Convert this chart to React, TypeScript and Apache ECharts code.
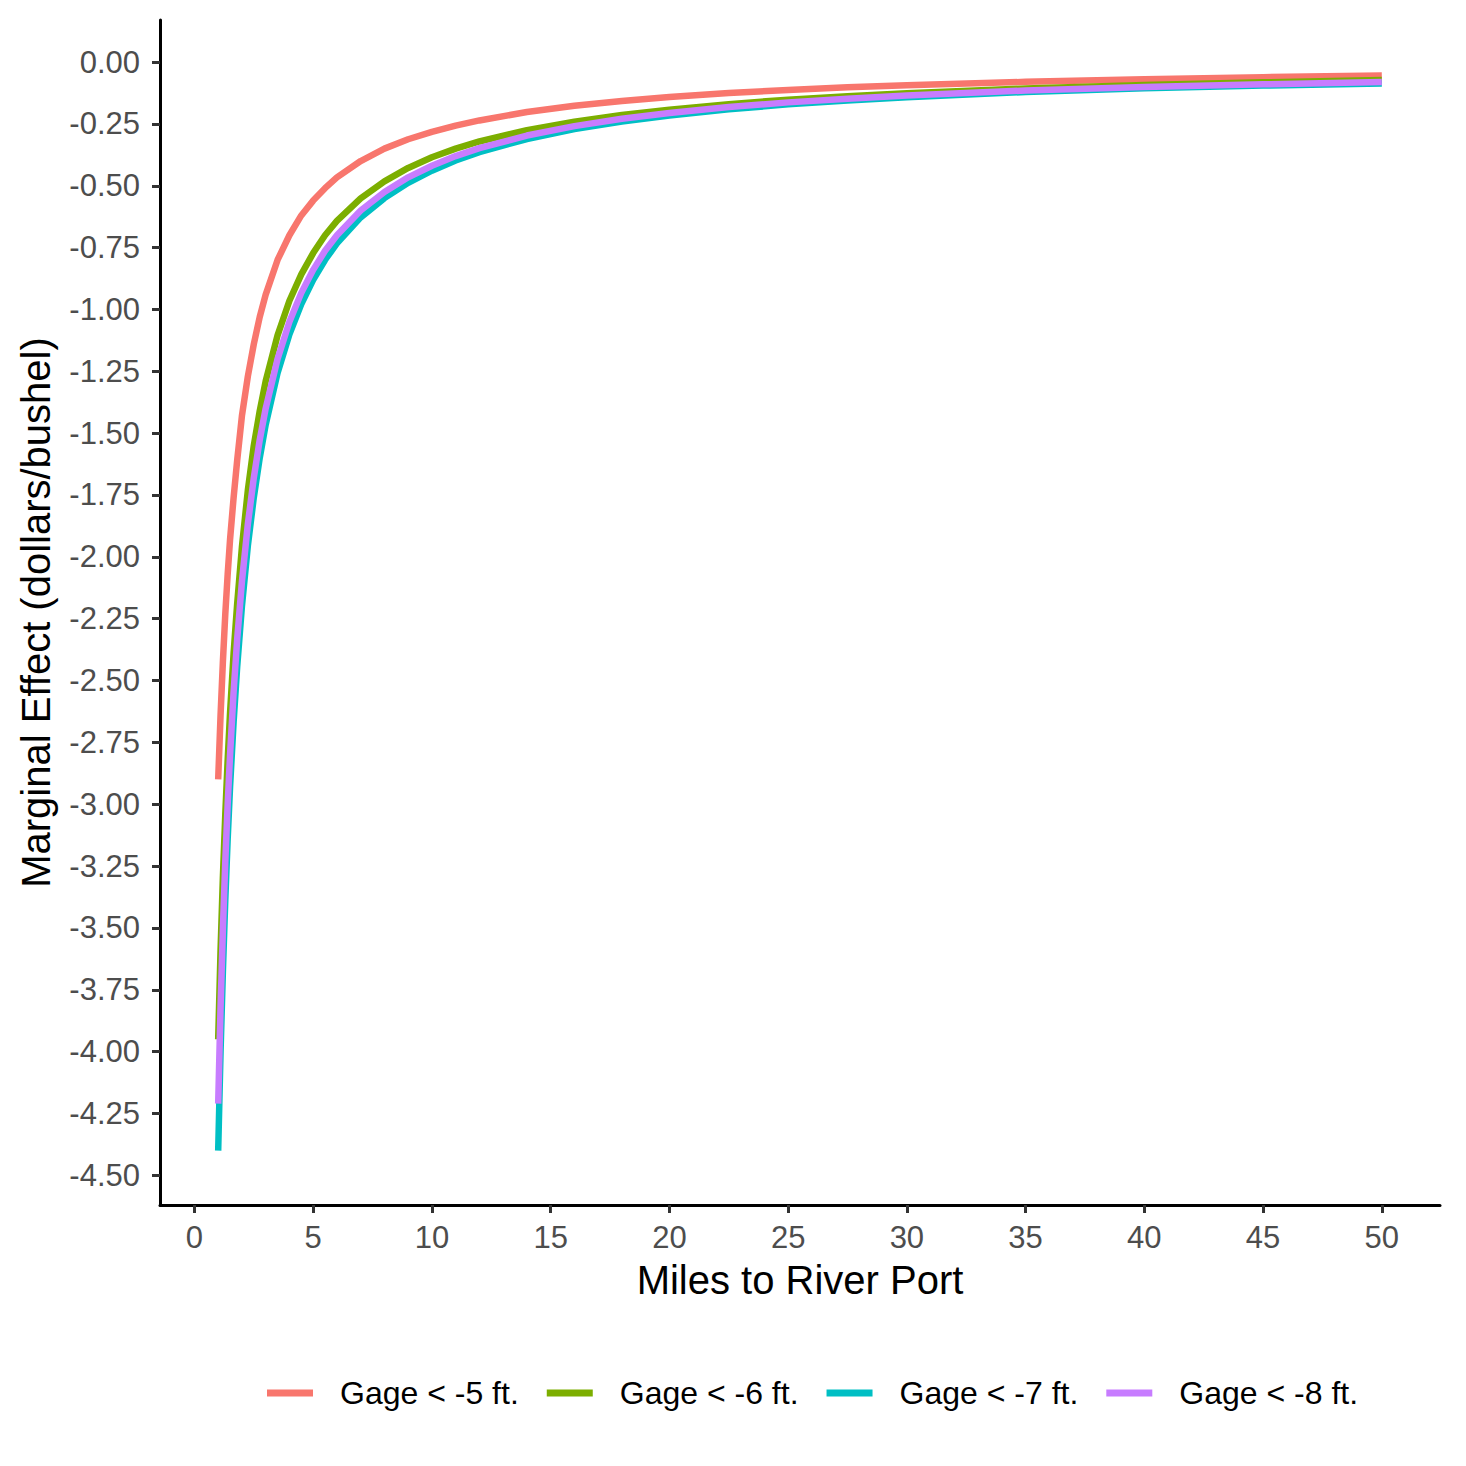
import React, { useEffect, useRef } from "react";
import * as echarts from "echarts";

const seriesNames = ["Gage < -5 ft.", "Gage < -6 ft.", "Gage < -7 ft.", "Gage < -8 ft."];
const seriesColors = ["#F8766D", "#7CAE00", "#00BFC4", "#C77CFF"];

const miles = [1, 1.1, 1.2, 1.3, 1.4, 1.5, 1.65, 1.8, 2, 2.25, 2.5, 2.75, 3, 3.5, 4, 4.5, 5, 5.5, 6, 7, 8, 9, 10, 11, 12, 14, 16, 18, 20, 22.5, 25, 27.5, 30, 35, 40, 45, 50];

const gage5 = [-2.90, -2.64, -2.42, -2.23, -2.07, -1.93, -1.76, -1.61, -1.43, -1.27, -1.14, -1.03, -0.94, -0.80, -0.70, -0.62, -0.56, -0.51, -0.466, -0.40, -0.35, -0.312, -0.282, -0.257, -0.236, -0.202, -0.177, -0.157, -0.141, -0.125, -0.113, -0.102, -0.094, -0.080, -0.069, -0.061, -0.054];
const gage6 = [-3.95, -3.59, -3.29, -3.04, -2.82, -2.63, -2.39, -2.19, -1.96, -1.73, -1.55, -1.41, -1.29, -1.105, -0.965, -0.858, -0.772, -0.70, -0.642, -0.551, -0.482, -0.428, -0.385, -0.350, -0.321, -0.275, -0.241, -0.214, -0.193, -0.170, -0.152, -0.138, -0.126, -0.107, -0.093, -0.082, -0.073];
const gage7 = [-4.40, -4.00, -3.67, -3.385, -3.14, -2.93, -2.667, -2.444, -2.20, -1.955, -1.76, -1.60, -1.466, -1.257, -1.10, -0.978, -0.88, -0.80, -0.733, -0.628, -0.55, -0.488, -0.439, -0.398, -0.364, -0.311, -0.271, -0.240, -0.216, -0.191, -0.171, -0.155, -0.142, -0.121, -0.106, -0.095, -0.087];
const gage8 = [-4.21, -3.82, -3.50, -3.23, -3.00, -2.80, -2.545, -2.333, -2.10, -1.867, -1.68, -1.527, -1.40, -1.20, -1.05, -0.933, -0.84, -0.763, -0.70, -0.60, -0.525, -0.466, -0.419, -0.380, -0.348, -0.297, -0.259, -0.229, -0.206, -0.182, -0.163, -0.148, -0.135, -0.115, -0.101, -0.090, -0.081];

const xTicks = [0, 5, 10, 15, 20, 25, 30, 35, 40, 45, 50];
const yTicks = [0, -0.25, -0.5, -0.75, -1, -1.25, -1.5, -1.75, -2, -2.25, -2.5, -2.75, -3, -3.25, -3.5, -3.75, -4, -4.25, -4.5];

const FONT = "'Liberation Sans', Arial, sans-serif";

export default function App() {
  const ref = useRef<HTMLDivElement>(null);
  useEffect(() => {
    document.body.style.margin = "0";
    if (!ref.current) return;
    const chart = echarts.init(ref.current, undefined, { renderer: "svg" });
    const allValues = [gage5, gage6, gage7, gage8];
    const order = [0, 1, 2, 3];
    chart.setOption({
      animation: false,
      backgroundColor: "#ffffff",
      textStyle: { fontFamily: FONT },
      grid: { left: 160, right: 26, top: 20, bottom: 261 },
      legend: {
        left: 262,
        top: 1372,
        icon: "rect",
        itemWidth: 46,
        itemHeight: 7,
        itemGap: 28,
        data: seriesNames,
        textStyle: { fontSize: 32, color: "#000000", fontFamily: FONT, padding: [0, 0, 0, 22] },
      },
      xAxis: {
        type: "value",
        min: -1.45,
        max: 52.45,
        name: "Miles to River Port",
        nameLocation: "middle",
        nameGap: 55,
        nameTextStyle: { fontSize: 40, color: "#000000", fontFamily: FONT },
        splitLine: { show: false },
        axisLine: { show: true, onZero: false, lineStyle: { color: "#000000", width: 3 } },
        axisTick: { show: true, length: 8, customValues: xTicks, lineStyle: { color: "#333333", width: 3 } },
        axisLabel: { customValues: xTicks, fontSize: 31, color: "#4D4D4D", margin: 17, fontFamily: FONT },
      },
      yAxis: {
        type: "value",
        min: -4.62,
        max: 0.17,
        name: "Marginal Effect (dollars/bushel)",
        nameLocation: "middle",
        nameGap: 104,
        nameTextStyle: { fontSize: 40, color: "#000000", fontFamily: FONT },
        splitLine: { show: false },
        axisLine: { show: true, onZero: false, lineStyle: { color: "#000000", width: 3 } },
        axisTick: { show: true, length: 8, customValues: yTicks, lineStyle: { color: "#333333", width: 3 } },
        axisLabel: {
          customValues: yTicks,
          fontSize: 31,
          color: "#4D4D4D",
          margin: 20,
          fontFamily: FONT,
          formatter: (v: number) => v.toFixed(2),
        },
      },
      series: order.map((i) => ({
        name: seriesNames[i],
        type: "line",
        showSymbol: false,
        symbol: "none",
        smooth: false,
        color: seriesColors[i],
        lineStyle: { width: 6.5, color: seriesColors[i], cap: "butt", join: "round" },
        data: miles.map((m, k) => [m, allValues[i][k]]),
        z: 2 + i,
      })),
    });
    return () => chart.dispose();
  }, []);
  return <div ref={ref} style={{ width: 1466, height: 1466 }} />;
}
